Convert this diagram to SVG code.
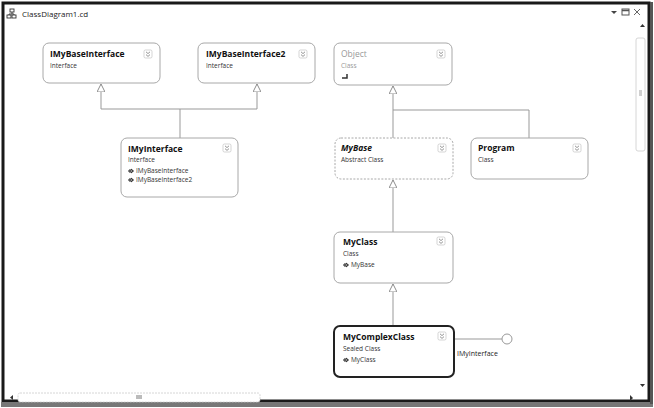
<svg xmlns="http://www.w3.org/2000/svg" width="654" height="408" viewBox="0 0 654 408">
<defs>
<style>
.node{fill:#fff;stroke:#a8a8a8;stroke-width:1}
.abs{stroke-dasharray:2,1.5}
.sel{stroke:#222;stroke-width:2}
.t{font-family:"Open Sans","Noto Sans",sans-serif;font-size:8.5px;font-weight:bold;fill:#111}
.s{font-family:"Open Sans","Noto Sans",sans-serif;font-size:6.5px;fill:#333}
.g{fill:#999}
.con{fill:none;stroke:#999;stroke-width:1}
.chev{fill:none;stroke:#777;stroke-width:0.8}
.ui{font-family:"Open Sans","Noto Sans",sans-serif;fill:#222}
.inh{fill:none;stroke:#222;stroke-width:1}
</style>
<marker id="tri" viewBox="0 0 10 10" refX="10" refY="5" markerWidth="8" markerHeight="8" markerUnits="userSpaceOnUse" orient="auto-start-reverse">
<path d="M10,5 L0,0 L0,10 Z" fill="#fff" stroke="#888" stroke-width="1.2"/>
</marker>
<g id="chevron">
<rect x="-4" y="-4" width="8" height="8" rx="1.5" fill="#fff" stroke="#bbb" stroke-width="0.6"/>
<path class="chev" d="M-2,-2.2 L0,-0.4 L2,-2.2 M-2,0.6 L0,2.4 L2,0.6"/>
</g>
<g id="inh">
<path class="inh" d="M0,0 H5 M3,-2 L5.5,0 L3,2 M2,-2 V2"/>
</g>
</defs>
<rect x="0" y="0" width="654" height="408" fill="#fff"/>
<!-- window frame -->
<rect x="3" y="3" width="646" height="398" fill="#fff" stroke="#1a1a1a" stroke-width="3"/>
<rect x="1" y="402" width="652" height="5" fill="#777"/>
<rect x="650" y="2" width="3" height="402" fill="#555"/>
<!-- title bar -->
<g id="title">
<g transform="translate(7,9)" fill="none" stroke="#333" stroke-width="0.9">
<rect x="3" y="0" width="4" height="3"/><rect x="0" y="6" width="4" height="3"/><rect x="5" y="6" width="4" height="3"/>
<path d="M5,3 V5 M2,5 H7 M2,5 V6 M7,5 V6"/>
</g>
<text class="ui" x="22" y="17" font-size="8">ClassDiagram1.cd</text>
<path d="M611,11 L617,11 L614,14 Z" fill="#444"/>
<rect x="622" y="9" width="7" height="6" fill="none" stroke="#555" stroke-width="1"/>
<line x1="622" y1="10.5" x2="629" y2="10.5" stroke="#555" stroke-width="1.5"/>
<path d="M634,9 L640,15 M640,9 L634,15" stroke="#666" stroke-width="1"/>
</g>
<!-- scrollbars -->
<g id="scrollbars">
<path d="M640,27 L645,27 L642.5,24 Z" fill="#333"/>
<rect x="636" y="38" width="9" height="113" rx="2" fill="#fff" stroke="#ccc" stroke-width="0.8"/>
<path d="M639,91 H642 M639,93 H642 M639,95 H642" stroke="#777" stroke-width="0.7"/>
<path d="M640,384 L645,384 L642.5,387 Z" fill="#333"/>
<path d="M630,395 L630,401 L633,398 Z" fill="#333"/>
<path d="M13,395 L13,400 L10,397.5 Z" fill="#333"/>
<rect x="18" y="393" width="242" height="9" rx="2" fill="#fff" stroke="#ccc" stroke-width="0.8" stroke-dasharray="2,1"/>
<path d="M137,395 V399 M139,395 V399 M141,395 V399" stroke="#555" stroke-width="0.8"/>
</g>
<!-- connectors -->
<g id="connectors">
<path class="con" d="M101,84 V109 H257 V84" marker-start="url(#tri)" marker-end="url(#tri)"/>
<path class="con" d="M180,109 V138"/>
<path class="con" d="M393,86 V138" marker-start="url(#tri)"/>
<path class="con" d="M393,110 H529 V138"/>
<path class="con" d="M393,180 V232" marker-start="url(#tri)"/>
<path class="con" d="M393,284 V326" marker-start="url(#tri)"/>
<path class="con" d="M455,339 H502"/>
<circle cx="507" cy="339" r="5" fill="#fff" stroke="#999" stroke-width="1"/>
<text class="s" x="457" y="356" style="font-size:7px;fill:#222">IMyInterface</text>
</g>
<!-- nodes -->
<g id="IMyBaseInterface">
<rect class="node" x="43" y="43" width="117" height="40" rx="6"/>
<text class="t" x="50" y="57">IMyBaseInterface</text>
<text class="s" x="50" y="68">Interface</text>
<use href="#chevron" x="148" y="54"/>
</g>
<g id="IMyBaseInterface2">
<rect class="node" x="198" y="43" width="117" height="40" rx="6"/>
<text class="t" x="206" y="57">IMyBaseInterface2</text>
<text class="s" x="206" y="68">Interface</text>
<use href="#chevron" x="303" y="54"/>
</g>
<g id="Object">
<rect class="node" x="334" y="43" width="118" height="42" rx="6"/>
<text class="t g" x="341" y="57" style="font-weight:normal">Object</text>
<text class="s g" x="341" y="68">Class</text>
<path d="M342,78 H347 V74" fill="none" stroke="#333" stroke-width="1.5"/>
<use href="#chevron" x="441" y="54"/>
</g>
<g id="IMyInterface">
<rect class="node" x="121" y="138" width="117" height="59" rx="6"/>
<text class="t" x="128" y="152">IMyInterface</text>
<text class="s" x="128" y="162">Interface</text>
<use href="#inh" x="128" y="171"/>
<text class="s" x="136" y="173">IMyBaseInterface</text>
<use href="#inh" x="128" y="180"/>
<text class="s" x="136" y="182">IMyBaseInterface2</text>
<use href="#chevron" x="227" y="148"/>
</g>
<g id="MyBase">
<rect class="node abs" x="335" y="138" width="118" height="41" rx="6"/>
<text class="t" x="341" y="151" style="font-style:italic">MyBase</text>
<text class="s" x="341" y="162">Abstract Class</text>
<use href="#chevron" x="442" y="148"/>
</g>
<g id="Program">
<rect class="node" x="471" y="138" width="117" height="41" rx="6"/>
<text class="t" x="478" y="151">Program</text>
<text class="s" x="478" y="162">Class</text>
<use href="#chevron" x="577" y="148"/>
</g>
<g id="MyClass">
<rect class="node" x="334" y="232" width="119" height="51" rx="6"/>
<text class="t" x="343" y="245">MyClass</text>
<text class="s" x="343" y="256">Class</text>
<use href="#inh" x="343" y="265"/>
<text class="s" x="351" y="267">MyBase</text>
<use href="#chevron" x="441" y="241"/>
</g>
<g id="MyComplexClass">
<rect class="node sel" x="334" y="326" width="120" height="51" rx="6"/>
<text class="t" x="343" y="340">MyComplexClass</text>
<text class="s" x="343" y="351">Sealed Class</text>
<use href="#inh" x="343" y="360"/>
<text class="s" x="351" y="362">MyClass</text>
<use href="#chevron" x="442" y="336"/>
</g>
</svg>
